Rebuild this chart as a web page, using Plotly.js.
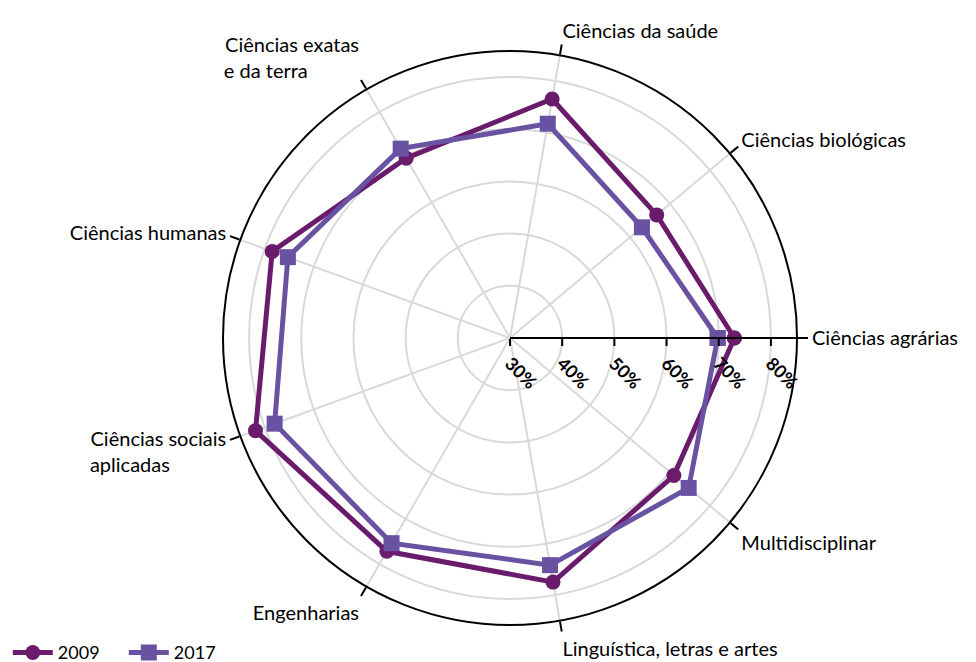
<!DOCTYPE html>
<html>
<head>
<meta charset="utf-8">
<script src="https://cdn.plot.ly/plotly-3.0.1.min.js"></script>
<style>html,body{margin:0;padding:0;background:#fff;}#chart{width:976px;height:662px;}</style>
</head>
<body>
<div id="chart"></div>
<script>
const NB = "\u00A0";
const categories = ["Ciências agrárias", "Ciências biológicas", "Ciências da saúde", "Ciências exatas<br>e da terra" + NB.repeat(10), "Ciências humanas", "Ciências sociais<br>aplicadas" + NB.repeat(11), "Engenharias", "Linguística, letras e artes", "Multidisciplinar"];
const values2009 = [73.0, 66.7, 76.5, 69.8, 78.5, 81.9, 77.2, 77.5, 71.0];
const values2017 = [69.8, 63.0, 71.7, 71.9, 75.3, 78.0, 75.4, 74.2, 74.7];
const radialTicks = [30, 40, 50, 60, 70, 80];

const closeLoop = a => a.concat([a[0]]);

const traces = [
  {
    type: "scatterpolar", name: "2009",
    r: closeLoop(values2009), theta: closeLoop(categories),
    mode: "lines+markers",
    line: {color: "#6a1b6c", width: 5},
    marker: {symbol: "circle", size: 15, color: "#6a1b6c"}
  },
  {
    type: "scatterpolar", name: "2017",
    r: closeLoop(values2017), theta: closeLoop(categories),
    mode: "lines+markers",
    line: {color: "#6a52a3", width: 5},
    marker: {symbol: "square", size: 16, color: "#6a52a3"}
  }
];

const layout = {
  width: 976, height: 662,
  margin: {l: 223, r: 179, t: 51, b: 37},
  paper_bgcolor: "#fff",
  font: {family: "Lato, 'Open Sans', sans-serif", size: 20, color: "#000"},
  showlegend: true,
  legend: {orientation: "h", xref: "container", yref: "container", x: 0.008, xanchor: "left", y: 0.014, yanchor: "middle", itemwidth: 40, entrywidth: 61, font: {size: 18}},
  polar: {
    domain: {x: [0, 1], y: [0, 1]},
    bgcolor: "#fff",
    radialaxis: {
      range: [30, 85],
      tickvals: radialTicks,
      ticktext: radialTicks.map(v => "<b>" + v + "%</b>"),
      angle: 0,
      tickangle: 45,
      showline: true, linecolor: "#000", linewidth: 2,
      ticks: "outside", ticklen: 7, tickcolor: "#000", tickwidth: 2,
      gridcolor: "#d9d9d9", gridwidth: 1.5,
      tickfont: {size: 18, color: "#000"}
    },
    angularaxis: {
      direction: "counterclockwise", rotation: 0,
      showline: true, linecolor: "#000", linewidth: 2,
      ticks: "outside", ticklen: 10, tickcolor: "#000", tickwidth: 2,
      gridcolor: "#d9d9d9", gridwidth: 1.5,
      tickfont: {size: 20, color: "#000"}
    }
  }
};

Plotly.newPlot("chart", traces, layout, {displayModeBar: false});
</script>
</body>
</html>
